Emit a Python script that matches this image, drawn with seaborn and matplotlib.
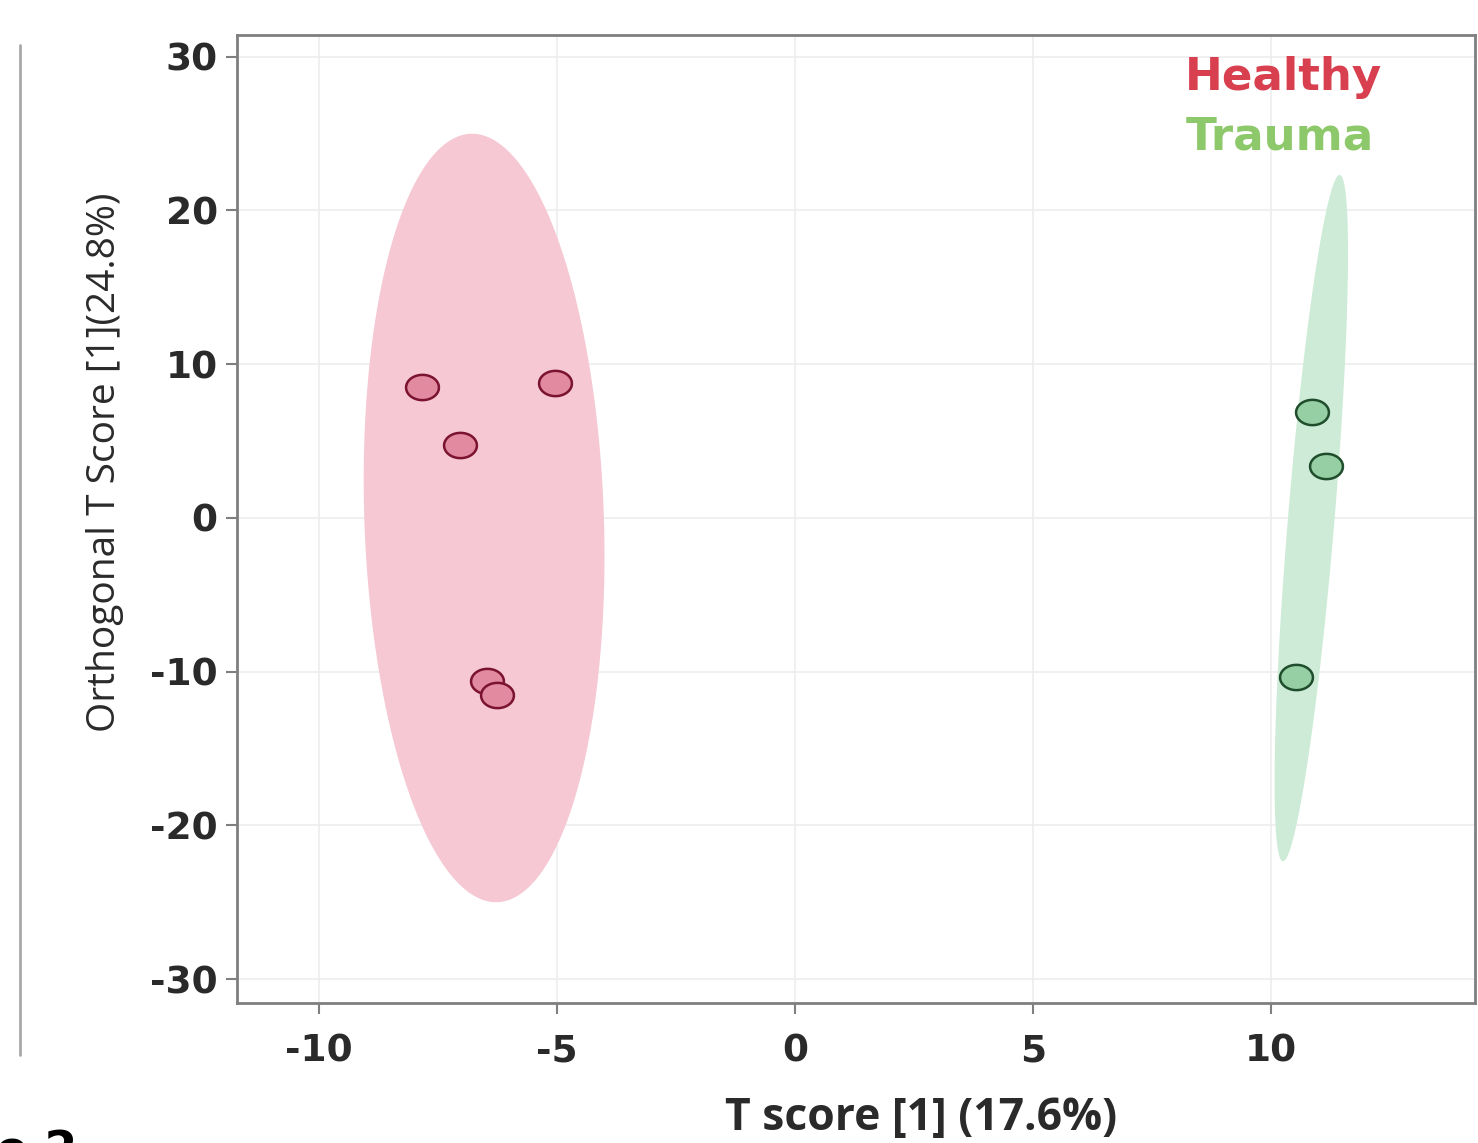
import numpy as np
import pandas as pd
import matplotlib
matplotlib.use("Agg")
import matplotlib.pyplot as plt
from matplotlib.lines import Line2D
import seaborn as sns

# ---- data ----
healthy_x = [-7.84, -5.04, -7.04, -6.47, -6.26]
healthy_y = [8.5, 8.8, 4.75, -10.6, -11.5]
trauma_x = [10.86, 11.16, 10.53]
trauma_y = [6.9, 3.4, -10.35]
groups = ["Healthy", "Trauma"]
x_ticks = [-10, -5, 0, 5, 10]
y_ticks = [-30, -20, -10, 0, 10, 20, 30]
x_label = "T score [1] (17.6%)"
y_label = "Orthogonal T Score [1](24.8%)"

df = pd.DataFrame({
    "t": healthy_x + trauma_x,
    "to": healthy_y + trauma_y,
    "Group": ["Healthy"] * len(healthy_x) + ["Trauma"] * len(trauma_x),
})

fill_cols = {"Healthy": "#F5C8D4", "Trauma": "#CDEBD7"}
pt_cols = {"Healthy": "#E28A9F", "Trauma": "#97CFA5"}
edge_cols = {"Healthy": "#7A1230", "Trauma": "#1F4D2C"}
text_cols = {"Healthy": "#D8404F", "Trauma": "#8DC86A"}

sns.set_theme(style="white")
plt.rcParams["font.family"] = ["DejaVu Sans"]
plt.rcParams["axes.unicode_minus"] = False

fig = plt.figure(figsize=(14.78, 11.43), dpi=100)
ax = fig.add_axes([0.1604, 0.1225, 0.8376, 0.8469])

# 95% confidence ellipses from group covariance
k = np.sqrt(5.991)
tt = np.linspace(0, 2 * np.pi, 300)
for g in groups:
    sub = df[df["Group"] == g]
    pts = sub[["t", "to"]].to_numpy()
    mu = pts.mean(axis=0)
    cov = np.cov(pts.T)
    vals, vecs = np.linalg.eigh(cov)
    circ = np.vstack([np.cos(tt), np.sin(tt)])
    ell = vecs @ (np.sqrt(vals)[:, None] * k * circ) + mu[:, None]
    ax.fill(ell[0], ell[1], color=fill_cols[g], lw=0, zorder=1)

# elliptical marker (wider than tall, as in the picture)
th = np.linspace(0, 2 * np.pi, 60)
marker_verts = list(zip(1.3 * np.cos(th), np.sin(th)))

for g in groups:
    sns.scatterplot(data=df[df["Group"] == g], x="t", y="to", ax=ax,
                    color=pt_cols[g], edgecolor=edge_cols[g], linewidth=1.8,
                    marker=marker_verts, s=560, zorder=3, legend=False)

ax.set_xlim(-11.72, 14.29)
ax.set_ylim(-31.55, 31.4)
ax.set_xticks(x_ticks)
ax.set_yticks(y_ticks)
ax.grid(True, color="#EDEDED", lw=1.2, zorder=0)
ax.set_axisbelow(True)
for s in ax.spines.values():
    s.set_color("#7F7F7F")
    s.set_linewidth(2)
ax.tick_params(axis="both", direction="out", length=8, width=1.5, color="#7F7F7F",
               labelsize=27, labelcolor="#2A2A2A", left=True, bottom=True, pad=6)
ax.tick_params(axis="x", pad=14)
for lab in ax.get_xticklabels() + ax.get_yticklabels():
    lab.set_fontweight("bold")

ax.set_xlabel(x_label, fontsize=32, color="#2A2A2A", family=["Open Sans", "DejaVu Sans"],
              fontweight="bold")
ax.xaxis.set_label_coords(0.5525, -0.119)
ax.xaxis.label.set_va("center")
ax.set_ylabel(y_label, fontsize=28, color="#2A2A2A", family=["Open Sans", "DejaVu Sans"])
ax.yaxis.set_label_coords(-0.1066, 0.559)
ax.yaxis.label.set_va("center")

ax.text(0.766, 0.956, "Healthy", transform=ax.transAxes, color=text_cols["Healthy"],
        fontsize=32.5, fontweight="bold", va="center", ha="left")
ax.text(0.766, 0.895, "Trauma", transform=ax.transAxes, color=text_cols["Trauma"],
        fontsize=32.5, fontweight="bold", va="center", ha="left")

# decorative vertical rule at the left and cropped panel label
fig.add_artist(Line2D([0.0135, 0.0135], [0.077, 0.961], transform=fig.transFigure,
                      color="#A8A8A8", lw=2))
fig.text(-0.003, 0.0114, "e 2", fontsize=34, fontweight="bold", color="black",
         va="top", ha="left")

fig.savefig("out.png", dpi=100)
